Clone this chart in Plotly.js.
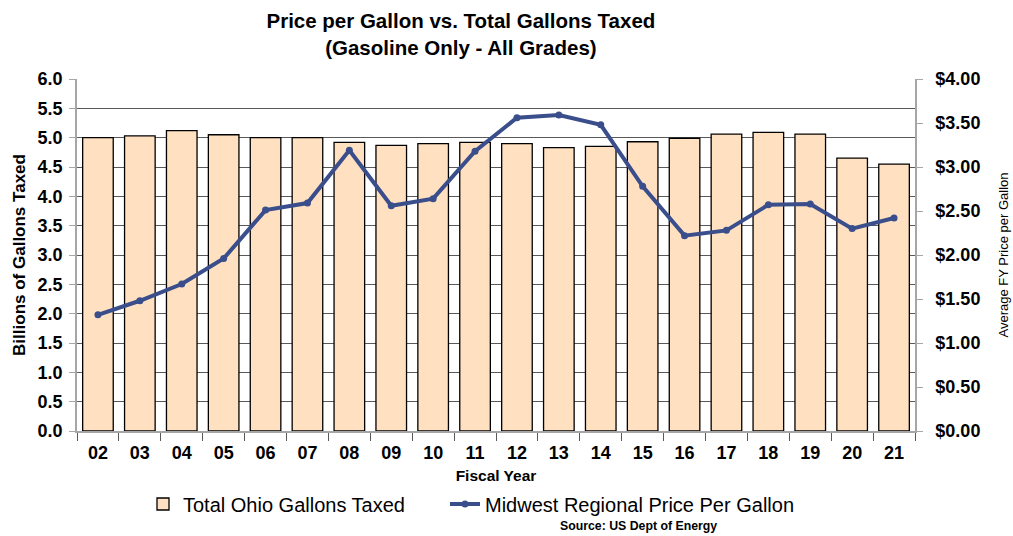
<!DOCTYPE html>
<html>
<head>
<meta charset="utf-8">
<script src="https://cdn.plot.ly/plotly-3.0.1.min.js"></script>
<style>html,body{margin:0;padding:0;background:#fff;}#chart{width:1013px;height:536px;}</style>
</head>
<body>
<div id="chart"></div>
<script>
const years = ["02","03","04","05","06","07","08","09","10","11","12","13","14","15","16","17","18","19","20","21"];
const gallons = [5.00,5.03,5.12,5.05,5.00,5.00,4.92,4.87,4.90,4.92,4.90,4.83,4.85,4.93,4.99,5.06,5.09,5.06,4.65,4.55];
const price = [1.32,1.48,1.67,1.96,2.51,2.59,3.19,2.56,2.64,3.18,3.56,3.59,3.48,2.78,2.22,2.28,2.57,2.58,2.30,2.42];
const leftTicks = [0,0.5,1,1.5,2,2.5,3,3.5,4,4.5,5,5.5,6];
const leftTickText = ["0.0","0.5","1.0","1.5","2.0","2.5","3.0","3.5","4.0","4.5","5.0","5.5","6.0"];
const rightTicks = [0,0.5,1,1.5,2,2.5,3,3.5,4];
const rightTickText = ["$0.00","$0.50","$1.00","$1.50","$2.00","$2.50","$3.00","$3.50","$4.00"];

const F = "Liberation Sans, Arial, sans-serif";
const b = s => "<b>" + s + "</b>";
const traces = [
  {type:"bar", x:years, y:gallons, name:"Total Ohio Gallons Taxed", legend:"legend",
   marker:{color:"#FFE0C1", line:{color:"#000000", width:1.3}}, yaxis:"y"},
  {type:"scatter", mode:"lines+markers", x:years, y:price, name:"Midwest Regional Price Per Gallon", legend:"legend2",
   line:{color:"#3A4E8C", width:4}, marker:{color:"#3A4E8C", size:7}, yaxis:"y2"}
];
const legendY = (536-504)/536;
const layout = {
  width:1013, height:536,
  margin:{l:77, r:98, t:79, b:105, autoexpand:false},
  paper_bgcolor:"#fff", plot_bgcolor:"#fff",
  showlegend:true,
  title:{text:b("Price per Gallon vs. Total Gallons Taxed<br>(Gasoline Only - All Grades)"),
         font:{family:F, size:20.5, color:"#000"}, x:0.455, xanchor:"center",
         yref:"container", y:0.948, yanchor:"top"},
  bargap:0.27,
  xaxis:{type:"category", range:[-0.5,19.5], tickvals:years, ticktext:years.map(b), tickson:"boundaries", ticks:"outside", ticklen:8,
         tickcolor:"#595959", showline:true, linecolor:"#a6a6a6", linewidth:1.5, automargin:false,
         ticklabelstandoff:5, tickfont:{family:F, size:18, color:"#000"},
         title:{text:b("Fiscal Year"), font:{family:F, size:15.5, color:"#000"}, standoff:10}},
  yaxis:{range:[0,6], tickvals:leftTicks, ticktext:leftTickText.map(b), ticks:"outside", ticklen:6, tickcolor:"#a6a6a6",
         showline:true, linecolor:"#a6a6a6", linewidth:1.5, showgrid:true, gridcolor:"#595959", gridwidth:1,
         zeroline:false, automargin:false, ticklabelstandoff:3, tickfont:{family:F, size:18, color:"#000"},
         title:{text:b("Billions of Gallons Taxed"), font:{family:F, size:17, color:"#000"}, standoff:8}},
  yaxis2:{range:[0,4], tickvals:rightTicks, ticktext:rightTickText.map(b), overlaying:"y", side:"right",
          ticks:"outside", ticklen:6, tickcolor:"#a6a6a6", showline:true, linecolor:"#a6a6a6", linewidth:1.5,
          showgrid:false, zeroline:false, automargin:false, ticklabelstandoff:9, tickfont:{family:F, size:18, color:"#000"},
          title:{text:"Average FY Price per Gallon", font:{family:F, size:13, color:"#000"}, standoff:20}},
  legend:{orientation:"h", xref:"container", x:143/1013, xanchor:"left", yref:"container", y:legendY, yanchor:"middle",
          font:{family:F, size:20, color:"#000"}},
  legend2:{orientation:"h", xref:"container", x:445/1013, xanchor:"left", yref:"container", y:legendY, yanchor:"middle",
          font:{family:F, size:20, color:"#000"}},
  annotations:[{text:b("Source: US Dept of Energy"), xref:"paper", yref:"paper", x:(638-77)/838, y:(431-526)/352,
                xanchor:"center", yanchor:"middle", showarrow:false, font:{family:F, size:12.3, color:"#000"}}]
};
Plotly.newPlot("chart", traces, layout, {displayModeBar:false});
</script>
</body>
</html>
